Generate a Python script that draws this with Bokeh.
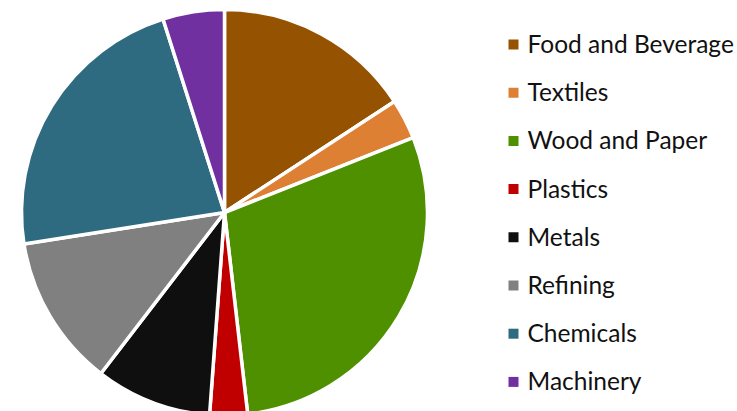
import numpy as np
from bokeh.plotting import figure
from bokeh.models import Range1d, ColumnDataSource
from bokeh.core.properties import value
from bokeh.embed import file_html
from bokeh.resources import INLINE

categories = ["Food and Beverage", "Textiles", "Wood and Paper", "Plastics",
              "Metals", "Refining", "Chemicals", "Machinery"]
shares = [15.8, 3.2, 29.2, 3.0, 9.25, 12.1, 22.6, 4.9]
colors = ["#955200", "#DE8033", "#4F9000", "#C00000",
          "#0F0F0F", "#808080", "#2E6B80", "#7030A0"]

W, H = 737, 411
p = figure(width=W, height=H, output_backend="svg", toolbar_location=None,
           x_range=Range1d(0, W), y_range=Range1d(0, H), min_border=0)
p.axis.visible = False
p.grid.visible = False
p.outline_line_color = None

vals = np.array(shares, dtype=float)
frac = vals / vals.sum()
cum_end = np.cumsum(frac)
cum_start = cum_end - frac
start = np.pi / 2 - 2 * np.pi * cum_end
end = np.pi / 2 - 2 * np.pi * cum_start

cx, cy, r = 224, H - 212, 203
src = ColumnDataSource(dict(cat=categories, val=shares, color=colors,
                            start=start, end=end))
p.wedge(x=cx, y=cy, radius=r, start_angle="start", end_angle="end",
        fill_color="color", line_color="white", line_width=3.5, source=src)

# legend drawn manually
n = len(categories)
ly = H - (44 + 48.2 * np.arange(n))
lsrc = ColumnDataSource(dict(x=[513] * n, tx=[527] * n, y=ly, ty=ly + 1,
                             cat=categories, color=colors))
p.scatter(x="x", y="y", marker="square", size=10, fill_color="color",
          line_color=None, source=lsrc)
p.text(x="tx", y="ty", text="cat", text_font=value("Lato"), text_font_size="24.5px",
       text_baseline="middle", text_align="left", text_color="#111111", source=lsrc)

open("out.html", "w").write(file_html(p, INLINE))
